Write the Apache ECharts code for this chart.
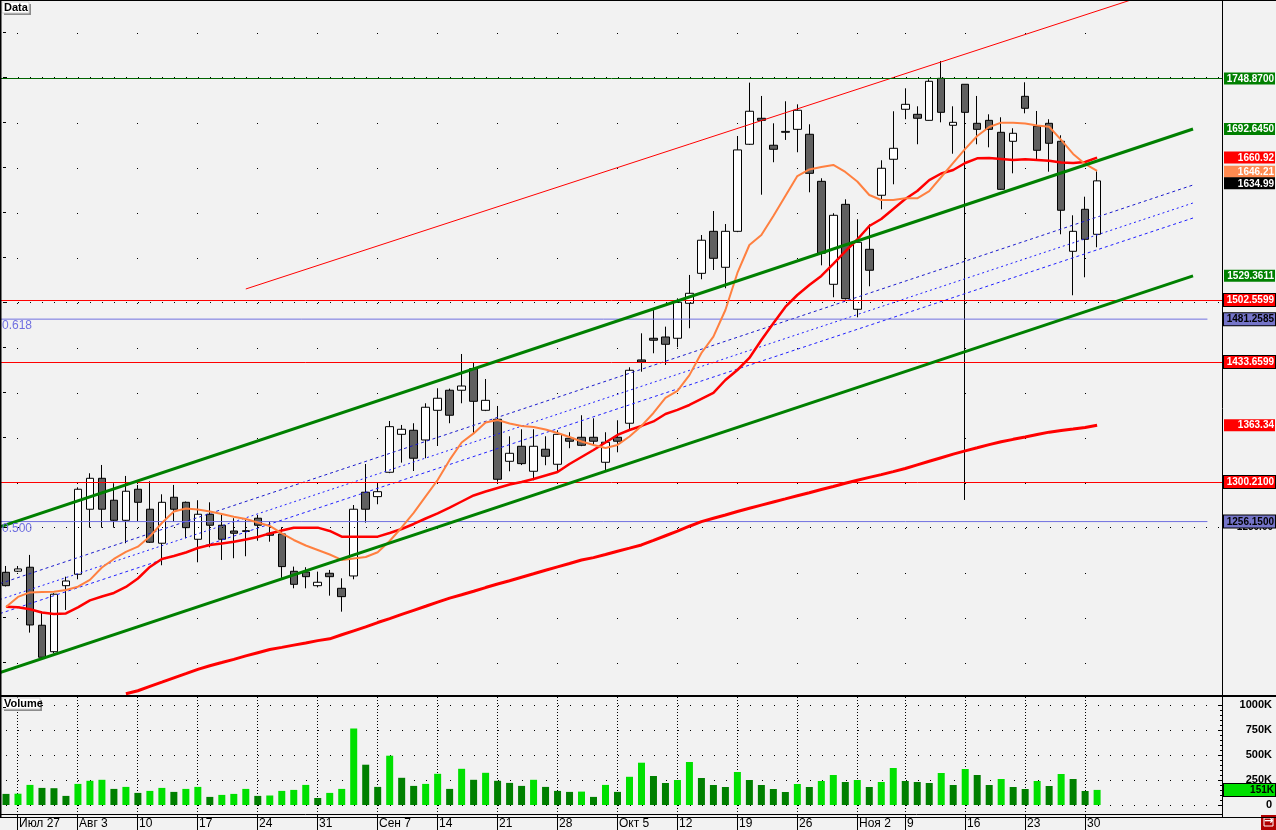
<!DOCTYPE html>
<html><head><meta charset="utf-8">
<script src="https://cdn.jsdelivr.net/npm/echarts@6/dist/echarts.min.js"></script>
<style>html,body{margin:0;padding:0;background:#f2f2f2}#c{width:1276px;height:830px}</style>
</head><body><div id="c"></div><script>
// ---------- DATA ----------
const dates = ['24.07','27.07','28.07','29.07','30.07','31.07','03.08','04.08','05.08','06.08','07.08','10.08','11.08','12.08','13.08','14.08','17.08','18.08','19.08','20.08','21.08','24.08','25.08','26.08','27.08','28.08','31.08','01.09','02.09','03.09','04.09','07.09','08.09','09.09','10.09','11.09','14.09','15.09','16.09','17.09','18.09','21.09','22.09','23.09','24.09','25.09','28.09','29.09','30.09','01.10','02.10','05.10','06.10','07.10','08.10','09.10','12.10','13.10','14.10','15.10','16.10','19.10','20.10','21.10','22.10','23.10','26.10','27.10','28.10','29.10','30.10','02.11','03.11','05.11','06.11','09.11','10.11','11.11','12.11','13.11','16.11','17.11','18.11','19.11','20.11','23.11','24.11','25.11','26.11','27.11','30.11','01.12'];
const open  = [1199.8,1201.0,1205.4,1140.9,1111.5,1184.9,1197.6,1269.9,1304.3,1279.9,1257.6,1292.1,1269.9,1232.1,1283.2,1277.6,1236.5,1264.3,1252.1,1245.7,1245.2,1259.9,1243.2,1242.4,1200.9,1200.1,1184.9,1198.7,1182.0,1195.7,1288.8,1283.9,1311.0,1353.2,1357.7,1346.9,1379.9,1402.2,1402.2,1426.2,1379.9,1369.9,1323.2,1339.9,1312.1,1336.6,1319.9,1348.8,1349.9,1349.9,1322.1,1349.9,1365.5,1435.9,1460.0,1461.4,1460.0,1498.9,1532.2,1578.9,1538.9,1578.9,1675.7,1704.6,1674.6,1689.0,1692.3,1686.8,1634.5,1520.0,1608.9,1492.2,1558.9,1619.0,1659.0,1714.6,1709.0,1702.3,1749.0,1696.8,1742.4,1699.0,1702.3,1689.0,1679.0,1729.0,1695.7,1699.0,1679.0,1556.7,1603.4,1575.6];
const close = [1184.9,1203.5,1141.2,1105.3,1175.4,1190.1,1292.1,1304.3,1269.9,1257.6,1289.9,1277.6,1233.2,1277.6,1269.9,1249.4,1264.3,1252.1,1236.5,1243.2,1246.0,1252.1,1241.0,1206.1,1186.4,1194.9,1188.7,1194.9,1172.7,1269.9,1269.9,1289.4,1361.7,1358.8,1326.6,1383.3,1393.3,1374.4,1406.9,1389.9,1391.0,1303.2,1332.1,1320.6,1339.9,1328.8,1353.2,1345.5,1341.0,1345.5,1344.4,1345.5,1424.4,1433.6,1457.8,1453.3,1500.0,1510.0,1569.0,1548.9,1578.9,1669.4,1712.4,1702.3,1670.1,1690.0,1713.5,1643.4,1554.5,1596.7,1504.0,1566.7,1535.6,1649.0,1671.2,1720.1,1704.6,1745.7,1711.2,1700.1,1711.2,1692.3,1692.3,1625.6,1687.9,1715.7,1669.0,1676.8,1602.3,1578.9,1570.0,1634.99];
const low   = [1184.0,1200.0,1132.7,1104.0,1109.8,1157.9,1192.0,1249.4,1249.4,1249.4,1232.1,1256.8,1232.5,1207.6,1256.1,1237.6,1210.9,1227.6,1213.5,1215.4,1217.6,1234.9,1233.8,1193.5,1182.0,1182.0,1183.0,1173.8,1156.0,1192.0,1255.0,1275.4,1310.0,1321.7,1312.4,1326.6,1340.2,1365.5,1387.7,1354.4,1379.0,1300.5,1312.1,1319.0,1302.1,1318.8,1312.1,1337.7,1340.0,1341.0,1313.2,1333.2,1358.8,1422.8,1443.3,1430.3,1450.0,1471.1,1525.6,1535.9,1515.6,1578.0,1675.0,1619.6,1655.7,1680.5,1666.8,1622.3,1541.1,1505.6,1503.0,1483.3,1517.8,1603.4,1631.2,1703.5,1675.7,1702.0,1700.1,1665.2,1280.2,1675.7,1672.3,1625.0,1643.4,1710.1,1657.9,1645.2,1575.6,1507.8,1527.8,1561.2];
const high  = [1206.8,1206.8,1219.1,1156.0,1176.5,1194.9,1294.3,1309.9,1319.1,1298.8,1306.9,1296.9,1301.0,1286.5,1296.9,1278.5,1279.9,1277.6,1264.0,1259.9,1259.9,1263.5,1256.1,1249.9,1206.1,1205.4,1200.5,1202.4,1193.1,1274.6,1320.2,1298.0,1368.0,1363.6,1365.5,1387.7,1404.4,1404.0,1442.5,1432.9,1414.7,1384.7,1351.0,1358.8,1358.8,1351.0,1357.7,1355.5,1374.4,1371.0,1355.5,1368.8,1427.7,1465.5,1491.4,1472.9,1504.4,1530.4,1574.8,1601.5,1587.0,1684.9,1744.2,1729.4,1699.0,1723.5,1720.1,1697.9,1637.9,1599.0,1614.5,1592.3,1586.7,1657.9,1712.4,1737.9,1717.9,1748.0,1768.3,1717.9,1742.4,1729.4,1709.0,1705.7,1693.5,1744.6,1712.7,1703.5,1685.7,1596.7,1617.4,1645.6];
const ma10  = [1161.2,1172.4,1177.4,1177.9,1178.2,1180.1,1183.8,1191.3,1205.1,1214.6,1222.4,1228.3,1239.6,1254.6,1267.4,1270.7,1269.6,1267.4,1264.6,1261.6,1259.1,1255.2,1251.3,1243.0,1235.7,1229.6,1224.6,1219.6,1213.5,1215.2,1216.8,1222.1,1234.6,1249.6,1265.8,1284.1,1302.4,1324.7,1344.1,1354.2,1366.4,1369.1,1365.2,1362.5,1361.4,1358.6,1354.7,1350.2,1345.2,1341.4,1338.0,1341.4,1350.8,1362.5,1376.9,1393.6,1401.4,1419.0,1443.6,1461.8,1491.4,1532.6,1563.7,1574.8,1596.0,1618.2,1640.4,1647.7,1650.4,1652.7,1644.9,1634.3,1619.3,1613.7,1613.7,1615.6,1615.6,1623.7,1639.3,1654.9,1670.5,1684.9,1694.9,1699.7,1699.7,1698.8,1696.6,1695.2,1680.5,1664.9,1653.8,1646.21];
const ma20  = [1161.5,1160.9,1158.7,1155.1,1153.5,1154.0,1160.7,1168.5,1172.9,1176.8,1183.5,1192.9,1205.7,1214.6,1217.9,1221.8,1226.8,1230.2,1231.8,1233.8,1236.3,1239.1,1243.0,1246.3,1249.4,1249.4,1249.4,1245.7,1239.4,1239.4,1239.4,1239.4,1243.5,1247.9,1253.5,1259.6,1265.4,1271.8,1278.5,1285.2,1289.6,1293.5,1297.4,1300.2,1303.5,1307.4,1311.3,1320.2,1328.0,1335.8,1344.1,1352.5,1358.0,1362.5,1367.5,1375.8,1380.3,1385.8,1392.5,1399.2,1413.6,1424.7,1438.1,1458.1,1476.7,1494.8,1508.1,1519.2,1529.3,1542.6,1556.5,1569.8,1584.8,1592.6,1603.7,1614.8,1623.7,1635.9,1643.2,1647.1,1654.9,1660.1,1660.4,1659.3,1658.2,1659.0,1658.2,1657.4,1655.4,1654.9,1656.0,1660.92];
const maLong = [null,null,null,null,null,null,null,null,null,null,1064.7,1068.1,1072.9,1077.6,1082.4,1087.1,1091.9,1095.9,1099.4,1103.0,1106.8,1110.4,1113.9,1116.3,1118.8,1121.2,1123.8,1125.8,1130.3,1134.7,1139.1,1143.9,1148.3,1152.9,1157.5,1162.0,1166.6,1171.1,1174.8,1178.7,1182.8,1186.7,1190.4,1194.3,1198.1,1202.0,1205.8,1209.6,1213.5,1216.1,1219.6,1223.2,1226.6,1230.2,1235.2,1240.4,1245.6,1251.0,1256.1,1259.8,1263.5,1267.3,1271.0,1274.5,1278.0,1281.4,1284.9,1288.3,1291.8,1295.2,1298.8,1302.1,1305.3,1308.4,1311.7,1315.2,1319.2,1323.2,1327.2,1331.2,1334.8,1338.2,1341.7,1344.9,1347.6,1350.2,1352.9,1355.6,1357.5,1359.1,1360.8,1363.34];
const volume = [111,113,201,171,168,91,211,242,252,161,181,121,141,171,131,161,181,81,101,111,161,91,95,141,151,201,70,121,161,765,403,181,493,272,191,211,312,161,362,252,322,242,221,191,252,181,141,131,134,81,201,131,282,423,290,220,250,430,270,200,180,330,250,200,160,130,210,180,240,300,230,250,180,230,370,240,230,220,320,200,360,300,200,260,180,160,240,190,310,260,140,151];
const weekIdx = [1,6,11,16,21,26,31,36,41,46,51,56,61,66,71,75,80,85,90];
const weekLbl = ['Июл 27','Авг 3','10','17','24','31','Сен 7','14','21','28','Окт 5','12','19','26','Ноя 2','9','16','23','30'];
const redLevels = [1502.5599, 1433.6599, 1300.21];
const greenLevel = 1748.87;
const fibLevels = [1481.2585, 1256.15];
const fibNames = ['0.618', '0.500'];
const majorLevels = [1250, 1500, 1750];
const chanTop = [[-0.5, 1250.2], [99, 1692.645]];
const chanBot = [[-0.5, 1088.3], [99, 1529.3611]];
const chanRed = [[20, 1514.8], [99, 1858.7]];
const dashA = [[-0.5, 1187.2], [99, 1630.4]];
const dashB = [[-0.5, 1169.5], [99, 1610.4]];
const dashC = [[-0.5, 1153.9], [99, 1593.7]];
const fibEnd = 100.2;

// ---------- CHART ----------
const N = 102;
const cats = dates.concat(Array(N - dates.length).fill(''));
const wk = new Set(weekIdx);
const isWk = (i) => wk.has(i);
const FONT = 'Liberation Sans';

function lbl(text, bg, fg, border, dy) {
  return {
    show: true, position: 'end', distance: 1, offset: [0, dy || 0],
    formatter: '{v|' + text + '}',
    backgroundColor: bg, borderColor: border ? '#000' : bg, borderWidth: border ? 1 : 0,
    padding: [1, 1, 0, 1],
    rich: { v: { width: 49, align: 'right', color: fg, fontSize: 10, fontWeight: 'bold', fontFamily: FONT, lineHeight: 11 } }
  };
}
const noLine = { width: 0, color: 'rgba(0,0,0,0)' };
const last = dates.length - 1;

const mlData = [];
majorLevels.forEach(v => mlData.push({ yAxis: v, lineStyle: { color: '#000', width: 1, type: [1, 11], dashOffset: 6 }, label: { show: false } }));
mlData.push({ yAxis: greenLevel, lineStyle: { color: '#006400', width: 1, type: 'solid' }, label: lbl(greenLevel.toFixed(4), '#008000', '#fff', false) });
redLevels.forEach(v => mlData.push({ yAxis: v, lineStyle: { color: '#ff0000', width: 1, type: 'solid' }, label: lbl(v.toFixed(4), '#ff0000', '#fff', true) }));
fibLevels.forEach(v => mlData.push({ yAxis: v, lineStyle: noLine, label: lbl(v.toFixed(4), '#7474c8', '#000', true) }));
mlData.push({ yAxis: chanTop[1][1], lineStyle: noLine, label: lbl(chanTop[1][1].toFixed(4), '#008000', '#fff', false) });
mlData.push({ yAxis: chanBot[1][1], lineStyle: noLine, label: lbl(chanBot[1][1].toFixed(4), '#008000', '#fff', false) });
mlData.push({ yAxis: maLong[last], lineStyle: noLine, label: lbl(maLong[last].toFixed(2), '#ff0000', '#fff', false) });
mlData.push({ yAxis: ma20[last], lineStyle: noLine, label: lbl(ma20[last].toFixed(2), '#ff0000', '#fff', false) });
mlData.push({ yAxis: ma10[last], lineStyle: noLine, label: lbl(ma10[last].toFixed(2), '#ff8a50', '#fff', false, 1) });
mlData.push({ yAxis: close[last], lineStyle: noLine, label: lbl(close[last].toFixed(2), '#000', '#fff', false, 2.5) });

// price pane: y = 0 -> 1836.1, y = 707 -> 1050
const PMIN = 1050, PMAX = 1836.1, PH = 707;

const chart = echarts.init(document.getElementById('c'), null, { renderer: 'canvas' });
const lineS = (data, color, width, type, z) => ({
  type: 'line', xAxisIndex: 1, yAxisIndex: 0, data: data, symbol: 'none', silent: true,
  lineStyle: { color: color, width: width, type: type || 'solid' }, z: z || 5, animation: false
});

const option = {
  animation: false,
  backgroundColor: '#f2f2f2',
  grid: [
    { left: -1, top: 0, width: 1224, height: PH },
    { left: -1, top: 705, width: 1224, height: 100 },
    { left: 5, top: 0, width: 1212, height: PH },
    { left: 5, top: 697, width: 1212, height: 118 }
  ],
  xAxis: [
    { type: 'category', gridIndex: 0, data: cats, boundaryGap: true, axisLine: { show: false }, axisTick: { show: false }, axisLabel: { show: false }, splitLine: { show: false } },
    { type: 'value', gridIndex: 0, min: -0.5, max: N - 0.5, show: false },
    { type: 'category', gridIndex: 1, data: cats, boundaryGap: true, axisLine: { show: false }, axisTick: { show: false }, axisLabel: { show: false }, splitLine: { show: false } },
    { type: 'category', gridIndex: 2, data: cats, boundaryGap: false, axisLine: { show: false }, axisTick: { show: false }, axisLabel: { show: false },
      splitLine: { show: true, interval: isWk, lineStyle: { color: '#000', width: 1, type: [1, 44], dashOffset: 12 } } },
    { type: 'category', gridIndex: 3, data: cats, boundaryGap: false, position: 'bottom', axisLine: { show: false },
      axisTick: { show: true, interval: isWk, length: 15, lineStyle: { color: '#000', width: 1 } },
      axisLabel: { show: true, interval: isWk, align: 'left', margin: 3, padding: [0, 0, 0, 2], color: '#000', fontSize: 12, fontFamily: FONT,
        formatter: (v, i) => { const j = weekIdx.indexOf(i); return j >= 0 ? weekLbl[j] : ''; } },
      splitLine: { show: true, interval: isWk, lineStyle: { color: '#000', width: 1, type: [1, 2] } } }
  ],
  yAxis: [
    { type: 'value', gridIndex: 0, position: 'right', min: PMIN, max: PMAX, interval: 50, axisLine: { show: false },
      axisTick: { show: true, inside: true, length: 3, lineStyle: { color: '#000' } }, splitLine: { show: false },
      axisLabel: { show: true, align: 'right', margin: 50, color: '#000', fontSize: 10, fontWeight: 'bold', fontFamily: FONT,
        formatter: v => (v === 1250 ? v.toFixed(2) : '') } },
    { type: 'value', gridIndex: 1, position: 'right', min: 0, max: 1000, interval: 250, axisLine: { show: false },
      axisTick: { show: true, inside: true, length: 5, lineStyle: { color: '#000' } },
      minorTick: { show: true, splitNumber: 5, length: 3, lineStyle: { color: '#000' } },
      splitLine: { show: true, lineStyle: { color: '#000', width: 1, type: [1, 11], dashOffset: 6 } },
      axisLabel: { show: true, align: 'right', margin: 49, color: '#000', fontSize: 11, fontWeight: 'bold', fontFamily: FONT,
        formatter: v => (v === 0 ? '0' : v + 'K') } },
    { type: 'value', gridIndex: 2, show: false },
    { type: 'value', gridIndex: 3, show: false }
  ],
  series: [
    { type: 'candlestick', xAxisIndex: 0, yAxisIndex: 0, barWidth: 8, z: 3,
      data: dates.map((d, i) => [open[i], close[i], low[i], high[i]]),
      itemStyle: { color: '#ffffff', color0: '#606060', borderColor: '#000', borderColor0: '#000', borderWidth: 1 },
      markLine: { silent: true, symbol: ['none', 'none'], animation: false, data: mlData } },
    lineS(chanRed, '#ff0000', 1, 'solid', 4),
    lineS(dashA, '#1a1acc', 1, [3, 3], 4),
    lineS(dashB, '#2020ff', 1, [2, 3], 4),
    lineS(dashC, '#2020ff', 1, [3, 3], 4),
    lineS([[-0.5, fibLevels[0]], [fibEnd, fibLevels[0]]], '#7070e0', 1, 'solid', 4),
    lineS([[-0.5, fibLevels[1]], [fibEnd, fibLevels[1]]], '#7070e0', 1, 'solid', 4),
    { type: 'line', xAxisIndex: 0, yAxisIndex: 0, data: maLong, symbol: 'none', silent: true, lineStyle: { color: '#ff0000', width: 3 }, z: 5 },
    { type: 'line', xAxisIndex: 0, yAxisIndex: 0, data: ma20, symbol: 'none', silent: true, lineStyle: { color: '#ff0000', width: 2.5 }, z: 6 },
    { type: 'line', xAxisIndex: 0, yAxisIndex: 0, data: ma10, symbol: 'none', silent: true, lineStyle: { color: '#ff8040', width: 2 }, z: 6 },
    lineS(chanTop, '#008000', 3, 'solid', 7),
    lineS(chanBot, '#008000', 3, 'solid', 7),
    { type: 'bar', xAxisIndex: 2, yAxisIndex: 1, barWidth: 7, silent: true,
      data: volume.map((v, i) => ({ value: v, itemStyle: { color: (i > 0 && v > volume[i - 1]) ? '#00e000' : '#008000' } })),
      markLine: { silent: true, symbol: ['none', 'none'], animation: false,
        data: [{ yAxis: volume[last], lineStyle: noLine, label: lbl(volume[last] + 'K', '#00e000', '#000', true) }] } }
  ]
};
chart.setOption(option);

// frame, panel captions and fib texts
const g = [];
const ln = (x1, y1, x2, y2, w) => ({ type: 'line', silent: true, z: 100, shape: { x1, y1, x2, y2 }, style: { stroke: '#000', lineWidth: w } });
g.push(ln(0.75, 0, 0.75, 817, 1.5));
g.push(ln(0, 0.5, 1276, 0.5, 1));
g.push(ln(1222.5, 0, 1222.5, 817, 1));
g.push(ln(0, 696, 1276, 696, 2));
g.push(ln(0, 814.5, 1222, 814.5, 1));
g.push(ln(0, 817.5, 1276, 817.5, 1));
function caption(x, y, w, text) {
  return { type: 'group', x: x, y: y, z: 101, silent: true, children: [
    { type: 'rect', shape: { x: 2, y: 2, width: w, height: 11 }, style: { fill: '#8c8c8c' } },
    { type: 'rect', shape: { x: 0, y: 0, width: w, height: 11 }, style: { fill: '#ffffff', stroke: '#d0d0d0', lineWidth: 1 } },
    { type: 'text', x: 2, y: 0, style: { text: text, fill: '#000', font: 'bold 11px "Liberation Sans"', textVerticalAlign: 'top' } }
  ] };
}
g.push(caption(2, 2, 27, 'Data'));
g.push(caption(2, 698, 38, 'Volume'));
fibLevels.forEach((v, i) => {
  const y = chart.convertToPixel({ yAxisIndex: 0 }, v);
  g.push({ type: 'text', silent: true, z: 50, x: 2, y: y + 1, style: { text: fibNames[i], fill: '#7070e0', font: '12px "Liberation Sans"', textVerticalAlign: 'top' } });
});
g.push({ type: 'group', x: 1261, y: 815, z: 101, silent: true, children: [
  { type: 'rect', shape: { x: 0, y: 0, width: 15, height: 15 }, style: { fill: '#b00000' } },
  { type: 'rect', shape: { x: 3, y: 3, width: 9, height: 8 }, style: { fill: 'none', stroke: '#fff', lineWidth: 1 } },
  { type: 'text', x: 3, y: 1, style: { text: '→', fill: '#fff', font: 'bold 11px "DejaVu Sans"', textVerticalAlign: 'top' } }
] });
chart.setOption({ graphic: g });
</script></body></html>
